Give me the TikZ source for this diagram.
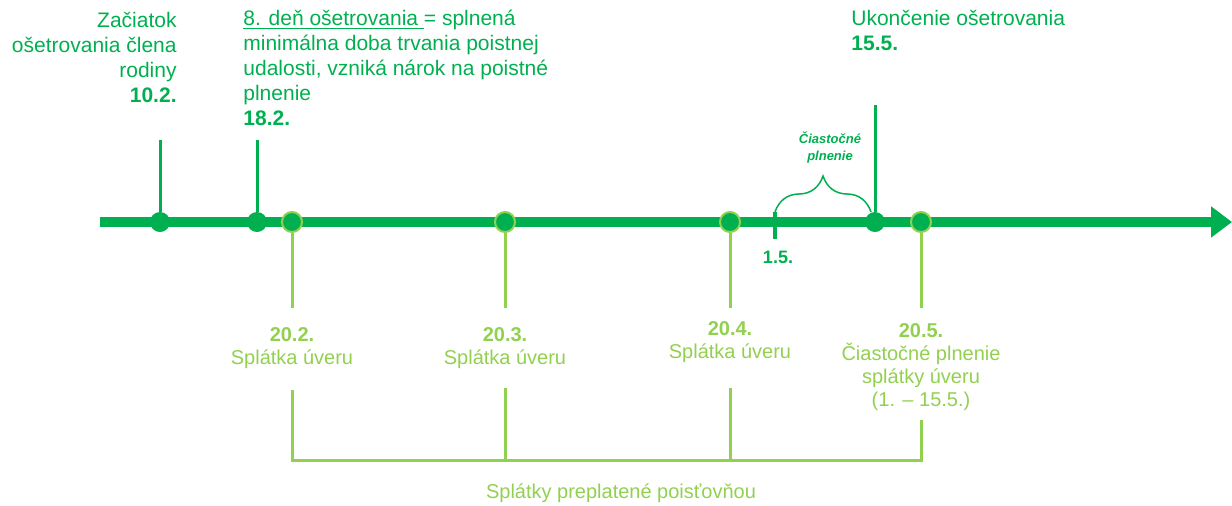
\documentclass[tikz,border=0pt]{standalone}
\usepackage{fontspec}
\setmainfont{Liberation Sans}
\usetikzlibrary{arrows.meta,decorations.pathreplacing}
\definecolor{dkgreen}{HTML}{00B050}
\definecolor{ltgreen}{HTML}{92D050}

\begin{document}
\begin{tikzpicture}[x=0.5pt, y=-0.5pt,
    axis/.style={line width=5pt, dkgreen, -{Triangle[width=15pt,length=10.5pt]}},
    stem/.style={line width=1.5pt, dkgreen},
    paystem/.style={line width=1.5pt, ltgreen},
    event/.style={circle, fill=dkgreen, inner sep=0pt, minimum size=10pt},
    payment/.style={circle, fill=dkgreen, draw=ltgreen, line width=1pt, inner sep=0pt, minimum size=10pt},
    toptext/.style={dkgreen, font=\fontsize{10.5}{12.5}\selectfont, inner sep=0pt},
    paytext/.style={ltgreen, font=\fontsize{10}{11.5}\selectfont, align=center, inner sep=0pt}]
    \useasboundingbox (0,0) rectangle (1232,505);

    % time axis
    \coordinate (start) at (100,222);
    \coordinate (end) at (1232,222);
    \draw[axis] (start) -- (end);

    % treatment events above the axis
    \coordinate (s102) at (160,140);
    \coordinate (s182) at (257,140);
    \coordinate (s155) at (875,105);
    \node[event] (d102) at (160,222) {};
    \node[event] (d182) at (257,222) {};
    \node[event] (d155) at (875,222) {};
    \draw[stem] (d102) -- (s102);
    \draw[stem] (d182) -- (s182);
    \draw[stem] (d155) -- (s155);

    \node[toptext, align=right, anchor=north east] (begin) at (177,12)
        {Začiatok\\ošetrovania člena\\rodiny\\\textbf{10.2.}};
    \node[toptext, align=left, anchor=north west] (day8) at (243,10)
        {\underline{8. deň ošetrovania\ }= splnená\\minimálna doba trvania poistnej\\udalosti, vzniká nárok na poistné\\plnenie\\\textbf{18.2.}};
    \node[toptext, align=left, anchor=north west] (stop) at (851,10)
        {Ukončenie ošetrovania\\\textbf{15.5.}};

    % partial period 1.5. - 15.5.
    \coordinate (k1) at (775,212);
    \coordinate (k2) at (775,239);
    \coordinate (k3) at (871,212);
    \draw[dkgreen, line width=2pt] (k1) -- (k2);
    \node[dkgreen, font=\bfseries\fontsize{9}{10}\selectfont] (l15) at (778,257) {1.5.};
    \draw[dkgreen, line width=0.75pt, decorate, decoration={brace, amplitude=18pt}] (k1) -- (k3);
    \node[dkgreen, font=\bfseries\itshape\fontsize{6.5}{8.5}\selectfont, align=center] (part) at (830,148)
        {Čiastočné\\plnenie};

    % loan payments below the axis
    \node[payment] (p202) at (292,222) {};
    \node[payment] (p203) at (505,222) {};
    \node[payment] (p204) at (730,222) {};
    \node[payment] (p205) at (921,222) {};
    \coordinate (q202) at (292,308);
    \coordinate (q203) at (505,308);
    \coordinate (q204) at (730,308);
    \coordinate (q205) at (921,308);
    \draw[paystem] (p202) -- (q202);
    \draw[paystem] (p203) -- (q203);
    \draw[paystem] (p204) -- (q204);
    \draw[paystem] (p205) -- (q205);

    \node[paytext, anchor=north] (l202) at (292,327) {\textbf{20.2.}\\Splátka úveru};
    \node[paytext, anchor=north] (l203) at (505,327) {\textbf{20.3.}\\Splátka úveru};
    \node[paytext, anchor=north] (l204) at (730,321) {\textbf{20.4.}\\Splátka úveru};
    \node[paytext, anchor=north] (l205) at (921,323) {\textbf{20.5.}\\Čiastočné plnenie\\splátky úveru\\(1. – 15.5.)};

    % payments overpaid by the insurer
    \coordinate (b202) at (292,390);
    \coordinate (b203) at (505,388);
    \coordinate (b204) at (730,388);
    \coordinate (b205) at (921,420);
    \coordinate (c202) at (292,460);
    \coordinate (c203) at (505,460);
    \coordinate (c204) at (730,460);
    \coordinate (c205) at (921,460);
    \draw[paystem] (b202) -- (c202) -- (c205) -- (b205);
    \draw[paystem] (b203) -- (c203);
    \draw[paystem] (b204) -- (c204);
    \node[paytext] (paid) at (621,493) {Splátky preplatené poisťovňou};
\end{tikzpicture}
\end{document}
